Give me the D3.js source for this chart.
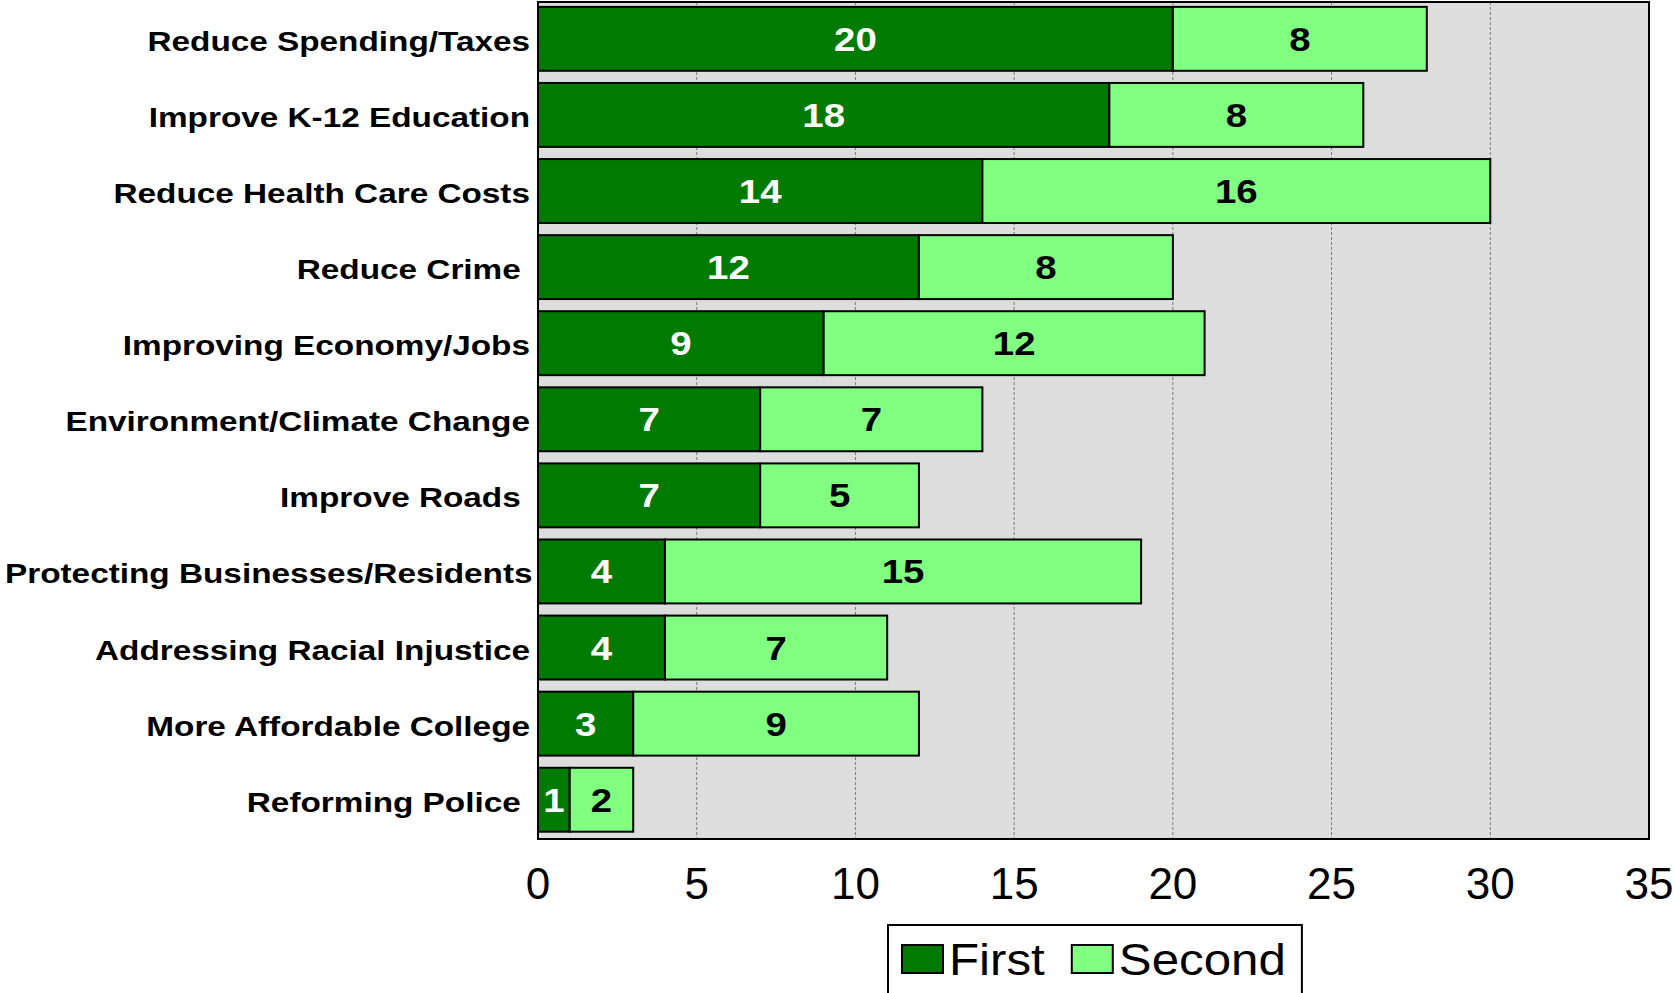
<!DOCTYPE html>
<html>
<head>
<meta charset="utf-8">
<script src="https://cdn.jsdelivr.net/npm/d3@7"></script>
<style>
  html, body { margin: 0; padding: 0; background: #fff; }
  svg { display: block; }
  text { font-family: "Liberation Sans", Arial, sans-serif; white-space: pre; }
</style>
</head>
<body>
<svg id="chart" width="1674" height="993"></svg>
<script>
const categories = [
  "Reduce Spending/Taxes",
  "Improve K-12 Education",
  "Reduce Health Care Costs",
  "Reduce Crime ",
  "Improving Economy/Jobs",
  "Environment/Climate Change",
  "Improve Roads ",
  "Protecting Businesses/Residents",
  "Addressing Racial Injustice",
  "More Affordable College",
  "Reforming Police "
];
const firstValues  = [20, 18, 14, 12, 9, 7, 7, 4, 4, 3, 1];
const secondValues = [8, 8, 16, 8, 12, 7, 5, 15, 7, 9, 2];
const seriesNames = ["First", "Second"];
const xTicks = [0, 5, 10, 15, 20, 25, 30, 35];

const colors = ["#007A00", "#80FF80"];
const labelColors = ["#FFFFFF", "#000000"];

const W = 1674, H = 993;
const plot = { left: 538, right: 1649, top: 2, bottom: 839 };

const svg = d3.select("#chart");

const x = d3.scaleLinear().domain([0, 35]).range([plot.left, plot.right]);
const y = d3.scaleBand().domain(categories).range([plot.top, plot.bottom])
  .paddingInner(0.16).paddingOuter(0.08).align(0.4);

// plot background
svg.append("rect")
  .attr("x", plot.left).attr("y", plot.top)
  .attr("width", plot.right - plot.left).attr("height", plot.bottom - plot.top)
  .attr("fill", "#DDDDDD");

// gridlines
svg.append("g").selectAll("line")
  .data(xTicks.filter(t => t > 0 && t < 35))
  .join("line")
  .attr("x1", d => x(d)).attr("x2", d => x(d))
  .attr("y1", plot.top).attr("y2", plot.bottom)
  .attr("stroke", "#7a7a7a").attr("stroke-width", 1)
  .attr("stroke-dasharray", "3,2");

// stacked data
const rows = categories.map((c, i) => ({ cat: c, First: firstValues[i], Second: secondValues[i] }));
const stack = d3.stack().keys(seriesNames)(rows);

const gBars = svg.append("g");
stack.forEach((layer, si) => {
  const g = gBars.append("g");
  g.selectAll("rect")
    .data(layer)
    .join("rect")
    .attr("x", d => x(d[0]))
    .attr("y", d => y(d.data.cat))
    .attr("width", d => x(d[1]) - x(d[0]))
    .attr("height", y.bandwidth())
    .attr("fill", colors[si])
    .attr("stroke", "#000")
    .attr("stroke-width", 2);
});

// value labels
stack.forEach((layer, si) => {
  svg.append("g").selectAll("text")
    .data(layer)
    .join("text")
    .attr("transform", d => `translate(${(x(d[0]) + x(d[1])) / 2},${y(d.data.cat) + y.bandwidth() / 2 + 12}) scale(1.13,1)`)
    .attr("text-anchor", "middle")
    .attr("font-size", 34)
    .attr("font-weight", "bold")
    .attr("fill", labelColors[si])
    .text(d => d[1] - d[0]);
});

// plot border
svg.append("rect")
  .attr("x", plot.left).attr("y", plot.top)
  .attr("width", plot.right - plot.left).attr("height", plot.bottom - plot.top)
  .attr("fill", "none").attr("stroke", "#000").attr("stroke-width", 2);

// category labels
const catLabels = svg.append("g").selectAll("text")
  .data(categories)
  .join("text")
  .attr("transform", d => `translate(530,${y(d) + y.bandwidth() / 2 + 12}) scale(1.19,1)`)
  .attr("text-anchor", "end")
  .attr("font-size", 28)
  .attr("font-weight", "bold")
  .attr("fill", "#000")
  .text(d => d);
// keep long labels inside the left edge
catLabels.each(function(d) {
  const bb = this.getBBox();
  const w = bb.width * 1.19;
  const startX = 530 - w;
  if (startX < 5) {
    d3.select(this).attr("transform", `translate(${5 + w},${y(d) + y.bandwidth() / 2 + 12}) scale(1.19,1)`);
  }
});

// x tick labels
svg.append("g").selectAll("text")
  .data(xTicks)
  .join("text")
  .attr("x", d => x(d))
  .attr("y", 899)
  .attr("text-anchor", "middle")
  .attr("font-size", 44)
  .attr("fill", "#000")
  .text(d => d);

// legend
const legend = svg.append("g");
const legX = 888, legY = 925;
const sw = 41, sh = 28;
let cx = legX + 14;
seriesNames.forEach((name, i) => {
  const sx = cx;
  legend.append("rect")
    .attr("x", sx).attr("y", legY + 20)
    .attr("width", sw).attr("height", sh)
    .attr("fill", colors[i]).attr("stroke", "#000").attr("stroke-width", 2);
  const t = legend.append("text")
    .attr("transform", `translate(${sx + sw + 6},${legY + 50}) scale(1.12,1)`)
    .attr("font-size", 44)
    .attr("fill", "#000")
    .text(name);
  const tw = t.node().getComputedTextLength() * 1.12;
  cx = sx + sw + 6 + tw + 27;
});
const legRight = cx - 27 + 16;
legend.insert("rect", ":first-child")
  .attr("x", legX).attr("y", legY)
  .attr("width", legRight - legX).attr("height", 100)
  .attr("fill", "#fff").attr("stroke", "#000").attr("stroke-width", 2);
</script>
</body>
</html>
